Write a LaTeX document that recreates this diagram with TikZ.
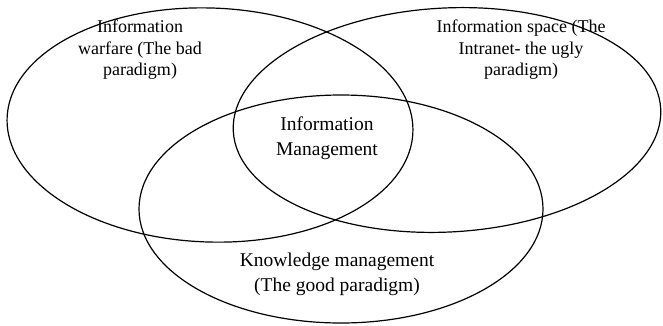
\documentclass[tikz,border=0pt]{standalone}
\usepackage{fontspec}
\setmainfont{Liberation Serif}

\begin{document}
\begin{tikzpicture}[x=1pt, y=-1pt, line width=1.2pt, txt/.style = {align=center, inner sep=0pt, font=\fontsize{18}{21.5}\selectfont}, bigtxt/.style = {txt, font=\fontsize{19.5}{25}\selectfont}] 
\useasboundingbox (0,0) rectangle (663,325);
\coordinate (war) at (210,125);
\coordinate (space) at (447,120);
\coordinate (know) at (341,209);
\draw[rotate around={-2:(war)}] (war) ellipse (203 and 117);
\draw[rotate around={3:(space)}] (space) ellipse (214 and 112);
\draw (know) ellipse (202 and 114);
\node[txt] (1) at (140,50) {Information\\warfare (The bad\\paradigm)}; 
\node[txt] (2) at (521,50) {Information space (The\\Intranet- the ugly\\paradigm)}; 
\node[bigtxt] (3) at (327,138) {Information\\Management}; 
\node[bigtxt] (4) at (337,274) {Knowledge management\\(The good paradigm)}; 
\end{tikzpicture}
\end{document}
